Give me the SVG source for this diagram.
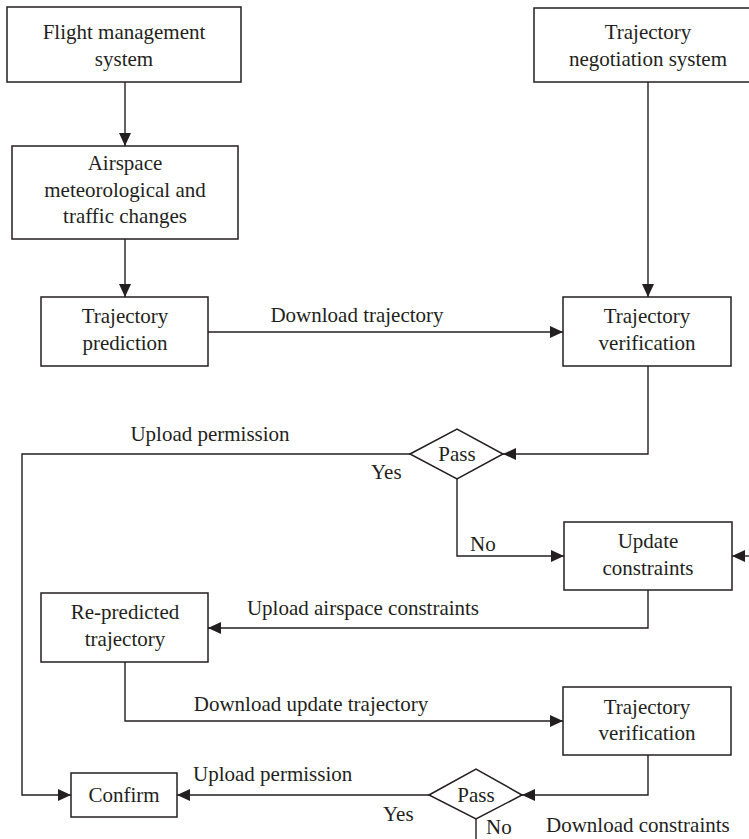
<svg xmlns="http://www.w3.org/2000/svg" width="749" height="839" viewBox="0 0 749 839">
<style>
.box{fill:#fff;stroke:#231f20;stroke-width:1.5}
.ln{fill:none;stroke:#231f20;stroke-width:1.4}
text{font-family:"Liberation Serif","DejaVu Serif",serif;font-size:21px;fill:#231f20}
.c{text-anchor:middle}
</style>
<defs>
<marker id="ah" markerUnits="userSpaceOnUse" markerWidth="14" markerHeight="12" refX="13" refY="6" orient="auto">
<path d="M0,0 L13,6 L0,12 Z" fill="#231f20"/>
</marker>
</defs>
<rect width="749" height="839" fill="#fff"/>
<g id="connectors">
<line class="ln" x1="125" y1="82" x2="125" y2="146" marker-end="url(#ah)"/>
<line class="ln" x1="125" y1="239" x2="125" y2="297" marker-end="url(#ah)"/>
<line class="ln" x1="208" y1="332" x2="563" y2="332" marker-end="url(#ah)"/>
<line class="ln" x1="648" y1="82" x2="648" y2="297" marker-end="url(#ah)"/>
<polyline class="ln" points="648,366 648,454 503,454" marker-end="url(#ah)"/>
<polyline class="ln" points="410,454 22,454 22,795 71,795" marker-end="url(#ah)"/>
<polyline class="ln" points="457,479 457,556 564,556" marker-end="url(#ah)"/>
<line class="ln" x1="749" y1="556" x2="732" y2="556" marker-end="url(#ah)"/>
<polyline class="ln" points="648,590 648,628 208,628" marker-end="url(#ah)"/>
<polyline class="ln" points="125,662 125,721 563,721" marker-end="url(#ah)"/>
<polyline class="ln" points="648,755 648,795 522,795" marker-end="url(#ah)"/>
<line class="ln" x1="429" y1="795" x2="177" y2="795" marker-end="url(#ah)"/>
<line class="ln" x1="476" y1="819" x2="476" y2="839"/>
<text class="c" x="357" y="322">Download trajectory</text>
<text class="c" x="210" y="441">Upload permission</text>
<text x="371" y="479">Yes</text>
<text x="470" y="551">No</text>
<text class="c" x="363" y="615">Upload airspace constraints</text>
<text class="c" x="311" y="711">Download update trajectory</text>
<text x="193" y="781">Upload permission</text>
<text x="383" y="821">Yes</text>
<text x="486" y="834">No</text>
<text x="546" y="832">Download constraints</text>
</g>
<g id="fms">
<rect class="box" x="7" y="7" width="234" height="75"/>
<text class="c" x="124" y="39">Flight management</text>
<text class="c" x="124" y="66">system</text>
</g>
<g id="tns">
<rect class="box" x="534" y="8" width="228" height="74"/>
<text class="c" x="648" y="39">Trajectory</text>
<text class="c" x="648" y="66">negotiation system</text>
</g>
<g id="airspace">
<rect class="box" x="12" y="146" width="226" height="93"/>
<text class="c" x="125" y="170">Airspace</text>
<text class="c" x="125" y="197">meteorological and</text>
<text class="c" x="125" y="223">traffic changes</text>
</g>
<g id="prediction">
<rect class="box" x="41" y="297" width="167" height="69"/>
<text class="c" x="125" y="323">Trajectory</text>
<text class="c" x="125" y="350">prediction</text>
</g>
<g id="verification1">
<rect class="box" x="563" y="297" width="168" height="69"/>
<text class="c" x="647" y="323">Trajectory</text>
<text class="c" x="647" y="350">verification</text>
</g>
<g id="pass1">
<polygon class="box" points="410,454 457,429 503,454 457,479"/>
<text class="c" x="457" y="461">Pass</text>
</g>
<g id="update">
<rect class="box" x="564" y="522" width="168" height="68"/>
<text class="c" x="648" y="548">Update</text>
<text class="c" x="648" y="575">constraints</text>
</g>
<g id="repredicted">
<rect class="box" x="41" y="593" width="167" height="69"/>
<text class="c" x="125" y="619">Re-predicted</text>
<text class="c" x="125" y="646">trajectory</text>
</g>
<g id="verification2">
<rect class="box" x="563" y="687" width="168" height="68"/>
<text class="c" x="647" y="714">Trajectory</text>
<text class="c" x="647" y="740">verification</text>
</g>
<g id="pass2">
<polygon class="box" points="429,795 476,769 522,795 476,819"/>
<text class="c" x="476" y="802">Pass</text>
</g>
<g id="confirm">
<rect class="box" x="71" y="773" width="106" height="44"/>
<text class="c" x="124" y="802">Confirm</text>
</g>
</svg>
